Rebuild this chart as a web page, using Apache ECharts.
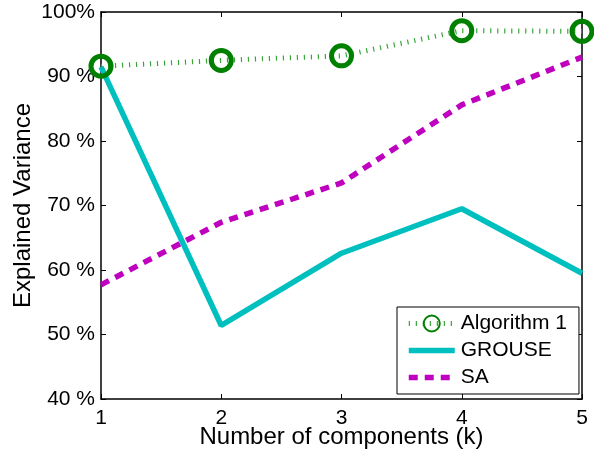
<!DOCTYPE html>
<html>
<head>
<meta charset="utf-8">
<script src="https://cdn.jsdelivr.net/npm/echarts@6/dist/echarts.min.js"></script>
<style>
  html, body { margin: 0; padding: 0; background: #fff; }
  #chart { width: 594px; height: 454px; }
</style>
</head>
<body>
<div id="chart"></div>
<script>
// Number of components k
const components = [1, 2, 3, 4, 5];
// Explained variance (%) for each method
const algorithm1 = [91.6, 92.5, 93.2, 97.1, 97.0];
const grouse = [91.5, 51.4, 62.6, 69.5, 59.5];
const sa = [57.7, 67.4, 73.5, 85.6, 93.0];
// y-axis tick labels
const yTickLabels = { 40: '40 %', 50: '50 %', 60: '60 %', 70: '70 %', 80: '80 %', 90: '90 %', 100: '100%' };

const font = 'Liberation Sans, Arial, sans-serif';
const pair = (xs, ys) => xs.map((x, i) => [x, ys[i]]);

const chart = echarts.init(document.getElementById('chart'), null, { renderer: 'canvas' });

const axisCommon = {
  axisLine: { show: true, lineStyle: { color: '#000', width: 1.5 } },
  axisTick: { show: true, inside: true, length: 5, lineStyle: { color: '#000', width: 1 } },
  splitLine: { show: false }
};

const hiddenSymbol = { color: 'rgba(0,0,0,0)', borderColor: 'rgba(0,0,0,0)', borderWidth: 0 };

chart.setOption({
  animation: false,
  backgroundColor: '#fff',
  grid: { left: 101, right: 12, top: 12, bottom: 55, containLabel: false, outerBoundsMode: 'none' },
  xAxis: [
    Object.assign({}, axisCommon, {
      type: 'value', min: 1, max: 5, interval: 1, position: 'bottom',
      name: 'Number of components (k)', nameLocation: 'middle', nameGap: 26,
      nameMoveOverlap: false,
      nameTextStyle: { fontFamily: font, fontSize: 24, color: '#000' },
      axisLabel: { fontFamily: font, fontSize: 21, color: '#000', margin: 9 }
    }),
    Object.assign({}, axisCommon, {
      type: 'value', min: 1, max: 5, interval: 1, position: 'top',
      axisLabel: { show: false }
    })
  ],
  yAxis: [
    Object.assign({}, axisCommon, {
      type: 'value', min: 40, max: 100, interval: 10, position: 'left',
      name: 'Explained Variance', nameLocation: 'middle', nameGap: 66,
      nameMoveOverlap: false,
      nameTextStyle: { fontFamily: font, fontSize: 24, color: '#000' },
      axisLabel: { fontFamily: font, fontSize: 21, color: '#000', margin: 6,
        formatter: v => yTickLabels[v] || '' }
    }),
    Object.assign({}, axisCommon, {
      type: 'value', min: 40, max: 100, interval: 10, position: 'right',
      axisLabel: { show: false }
    })
  ],
  legend: {
    orient: 'vertical',
    left: 397, top: 307,
    width: 182,
    backgroundColor: '#fff',
    borderColor: '#000', borderWidth: 1,
    padding: [6, 12, 6, 9],
    itemWidth: 46, itemHeight: 20, itemGap: 6,
    textStyle: { fontFamily: font, fontSize: 21, color: '#000', padding: [0, 0, 0, 1] },
    lineStyle: { width: 'inherit' },
    data: [
      { name: 'Algorithm 1', lineStyle: { width: 5 } },
      { name: 'GROUSE', itemStyle: hiddenSymbol, lineStyle: { width: 5.5 } },
      { name: 'SA', itemStyle: hiddenSymbol, lineStyle: { width: 5.5 } }
    ]
  },
  series: [
    {
      name: 'SA', type: 'line', data: pair(components, sa),
      showSymbol: false, symbol: 'none', z: 2,
      lineStyle: { color: '#BF00BF', width: 5.5, type: [9, 7], cap: 'butt' },
      itemStyle: { color: '#BF00BF' }
    },
    {
      name: 'GROUSE', type: 'line', data: pair(components, grouse),
      showSymbol: false, symbol: 'none', z: 3,
      lineStyle: { color: '#00BFBF', width: 5.5, type: 'solid' },
      itemStyle: { color: '#00BFBF' }
    },
    {
      name: 'Algorithm 1', type: 'line', data: pair(components, algorithm1),
      symbol: 'circle', symbolSize: 20, z: 4,
      lineStyle: { color: '#3aa63a', width: 5, type: [1.2, 5.8], cap: 'butt' },
      itemStyle: { color: 'rgba(255,255,255,0)', borderColor: '#008000', borderWidth: 5 }
    }
  ]
});
</script>
</body>
</html>
